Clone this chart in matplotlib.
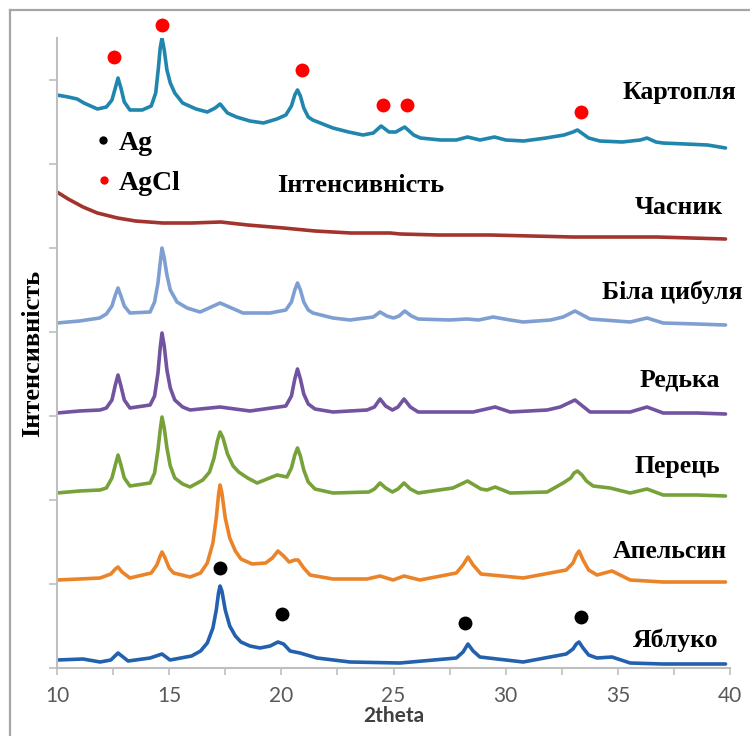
import matplotlib
matplotlib.use("Agg")
import matplotlib.pyplot as plt
from matplotlib.lines import Line2D

# ---------------- data (2theta, intensity in arbitrary units) ----------------
kartoplia_x = [10.0, 10.5, 10.9, 11.2, 11.8, 12.2, 12.45, 12.6, 12.72, 12.85, 13.0, 13.25, 13.8, 14.2,
               14.4, 14.52, 14.6, 14.68, 14.78, 14.9, 15.05, 15.25, 15.6, 16.2, 16.7, 17.05, 17.27,
               17.6, 18.0, 18.6, 19.2, 19.8, 20.2, 20.45, 20.6, 20.72, 20.85, 21.0, 21.2, 21.4, 22.3,
               23.0, 23.64, 24.1, 24.45, 24.8, 25.1, 25.5, 25.9, 26.2, 27.1, 27.8, 28.3, 28.86, 29.5,
               30.0, 30.8, 31.8, 32.6, 33.0, 33.2, 33.45, 33.7, 34.2, 35.2, 36.0, 36.3, 36.7, 37.0,
               38.0, 39.0, 39.8]
kartoplia_y = [573, 571, 569, 565, 559, 561, 568, 580, 590, 580, 566, 558, 558, 562,
               575, 600, 620, 630, 618, 598, 585, 575, 565, 559, 556, 560, 564,
               555, 551, 547, 545, 549, 553, 562, 573, 578, 572, 560, 551, 548, 540,
               536, 533, 535, 542, 536, 536, 541, 533, 530, 528, 528, 531, 528, 531,
               528, 527, 530, 533, 536, 538, 534, 530, 527, 526, 528, 530, 526, 525,
               524, 523, 520]

chasnyk_x = [10.0, 10.5, 11.16, 11.8, 12.7, 13.5, 14.7, 16.0, 17.3, 18.5, 20.1, 21.5, 23.1, 24.85,
             25.3, 27.0, 29.3, 33.0, 36.75, 39.8]
chasnyk_y = [476, 469, 461, 455, 450, 447, 445, 445, 446, 443, 440, 437, 435, 435,
             434, 433, 433, 431, 431, 429]

bila_x = [10.0, 11.0, 11.9, 12.2, 12.45, 12.6, 12.72, 12.85, 13.0, 13.25, 14.15, 14.35, 14.5, 14.6,
          14.68, 14.78, 14.9, 15.05, 15.35, 15.8, 16.38, 17.27, 18.29, 19.5, 20.2, 20.45, 20.6,
          20.72, 20.85, 21.0, 21.2, 21.41, 22.3, 23.06, 24.1, 24.4, 24.7, 25.0, 25.25, 25.5,
          25.8, 26.1, 27.5, 28.28, 28.8, 29.44, 30.2, 30.78, 32.0, 32.56, 33.09, 33.76, 35.55,
          36.3, 37.02, 38.5, 39.8]
bila_y = [345, 347, 350, 354, 362, 373, 380, 372, 362, 355, 356, 366, 385, 405,
          420, 410, 393, 378, 366, 360, 356, 365, 355, 355, 358, 366, 378,
          385, 378, 366, 358, 355, 350, 348, 351, 356, 352, 350, 352, 357,
          352, 349, 348, 349, 348, 351, 348, 346, 348, 351, 357, 349, 346,
          350, 345, 344, 343]

redka_x = [10.0, 11.0, 11.92, 12.2, 12.45, 12.6, 12.72, 12.85, 13.0, 13.25, 14.15, 14.35, 14.5, 14.6,
           14.68, 14.78, 14.9, 15.05, 15.25, 15.6, 15.93, 17.27, 18.6, 20.2, 20.45, 20.6, 20.72,
           20.85, 21.0, 21.2, 21.5, 22.3, 23.82, 24.15, 24.4, 24.65, 24.95, 25.2, 25.47, 25.75,
           26.1, 28.55, 29.53, 30.2, 31.85, 32.43, 33.09, 33.76, 35.55, 36.3, 37.02, 38.53, 39.8]
redka_y = [255, 257, 258, 260, 268, 283, 293, 282, 268, 260, 263, 272, 295, 320,
           335, 322, 298, 280, 268, 261, 258, 261, 257, 262, 272, 289, 299,
           289, 274, 264, 259, 256, 258, 261, 269, 262, 258, 261, 269, 261,
           256, 256, 261, 256, 258, 261, 268, 256, 256, 261, 255, 255, 254]

perets_x = [10.0, 11.0, 11.92, 12.2, 12.45, 12.6, 12.72, 12.85, 13.0, 13.25, 14.15, 14.35, 14.5, 14.6,
            14.68, 14.78, 14.9, 15.05, 15.25, 15.6, 15.93, 16.5, 16.8, 17.0, 17.15, 17.27, 17.4,
            17.6, 17.85, 18.1, 18.5, 18.92, 19.81, 20.25, 20.45, 20.6, 20.72, 20.85, 21.0, 21.2,
            21.5, 22.3, 23.9, 24.15, 24.4, 24.65, 24.95, 25.2, 25.47, 25.75, 26.1, 27.65, 28.3,
            28.9, 29.17, 29.53, 30.2, 31.85, 32.56, 32.9, 33.05, 33.2, 33.4, 33.6, 33.9, 34.65,
            35.55, 36.3, 37.02, 38.5, 39.8]
perets_y = [175, 177, 178, 180, 190, 203, 213, 203, 190, 182, 185, 195, 218, 238,
            251, 240, 220, 202, 190, 184, 181, 188, 196, 210, 227, 236, 230,
            214, 202, 196, 190, 185, 193, 191, 200, 213, 220, 212, 198, 186,
            179, 175, 176, 179, 185, 180, 176, 179, 185, 179, 175, 180, 187,
            179, 178, 181, 175, 176, 185, 190, 195, 197, 193, 187, 182, 180,
            175, 179, 173, 173, 172]

apelsyn_x = [10.0, 11.0, 11.92, 12.4, 12.6, 12.72, 12.9, 13.25, 14.2, 14.45, 14.6, 14.68, 14.8, 15.0,
             15.2, 15.93, 16.4, 16.7, 16.95, 17.1, 17.2, 17.27, 17.35, 17.5, 17.7, 17.95, 18.2,
             18.7, 19.3, 19.6, 19.85, 20.1, 20.35, 20.6, 20.75, 21.0, 21.28, 22.3, 23.82, 24.4,
             24.98, 25.47, 26.18, 27.8, 28.1, 28.32, 28.55, 28.9, 30.78, 32.7, 33.0, 33.15, 33.27,
             33.45, 33.7, 34.07, 34.74, 35.55, 37.02, 38.5, 39.8]
apelsyn_y = [88, 89, 90, 94, 99, 101, 96, 90, 95, 103, 112, 116, 111, 100,
             95, 91, 95, 105, 125, 150, 173, 183, 175, 150, 130, 117, 109,
             104, 105, 110, 117, 112, 106, 108, 108, 100, 93, 89, 89, 92,
             88, 92, 88, 95, 103, 111, 103, 94, 90, 98, 105, 113, 117,
             108, 98, 93, 97, 88, 86, 86, 86]

yabluko_x = [10.0, 11.16, 11.92, 12.4, 12.72, 13.17, 14.15, 14.68, 15.04, 16.0, 16.4, 16.7, 16.95,
             17.1, 17.2, 17.27, 17.35, 17.5, 17.7, 17.95, 18.2, 18.6, 19.05, 19.5, 19.85, 20.1,
             20.39, 20.83, 21.59, 23.06, 25.29, 27.8, 28.1, 28.32, 28.55, 28.85, 30.78, 32.7, 33.0,
             33.15, 33.27, 33.45, 33.7, 34.07, 34.74, 35.55, 37.0, 39.8]
yabluko_y = [8, 9, 6, 8, 15, 7, 10, 14, 8, 12, 17, 25, 40,
             58, 75, 82, 77, 58, 42, 32, 26, 22, 20, 22, 26, 24,
             17, 15, 10, 6, 5, 10, 16, 24, 17, 11, 6, 14, 19,
             24, 26, 20, 13, 10, 11, 5, 4, 4]

series_names = ["Картопля", "Часник", "Біла цибуля", "Редька", "Перець", "Апельсин", "Яблуко"]
series_x = [kartoplia_x, chasnyk_x, bila_x, redka_x, perets_x, apelsyn_x, yabluko_x]
series_y = [kartoplia_y, chasnyk_y, bila_y, redka_y, perets_y, apelsyn_y, yabluko_y]
series_colors = ["#2086AE", "#A3332D", "#7F9FD3", "#7253A0", "#77A23A", "#EB8428", "#2361AE"]

# label anchor (right edge x in 2theta, y in intensity units)
label_x = [40.27, 39.69, 40.54, 39.56, 39.56, 39.87, 39.47]
label_y = [575, 460, 376, 288, 201, 116, 28]

# phase markers
agcl_x = [12.54, 14.68, 20.92, 24.53, 25.6, 33.36]
agcl_y = [611, 643, 598, 563, 563, 556]
ag_x = [17.27, 20.03, 28.19, 33.36]
ag_y = [100, 54, 45, 51]

x_ticks = [10, 15, 20, 25, 30, 35, 40]

# ---------------- figure ----------------
W, H = 750, 736
fig = plt.figure(figsize=(W / 100, H / 100), dpi=100)
ax = fig.add_axes([57 / W, (H - 668) / H, (730 - 57) / W, (668 - 38) / H])

for xs, ys, c in zip(series_x, series_y, series_colors):
    ax.plot(xs, ys, color=c, lw=2.6, solid_joinstyle="round", solid_capstyle="round")

ax.plot(agcl_x, agcl_y, "o", color="#FF0000", ms=10, mec="none", clip_on=False)
ax.plot(ag_x, ag_y, "o", color="black", ms=10, mec="none", clip_on=False)

serif = ["Liberation Serif", "DejaVu Serif"]
for name, lx, ly in zip(series_names, label_x, label_y):
    ax.text(lx, ly, name, ha="right", va="center", family=serif, fontweight="bold",
            fontsize=18.5, color="black", clip_on=False)

# inner legend
ax.plot([12.05], [528], "o", color="black", ms=6, mec="none")
ax.plot([12.1], [488], "o", color="#FF0000", ms=6, mec="none")
ax.text(12.75, 524, "Ag", ha="left", va="center", family=serif, fontweight="bold",
        fontsize=20, color="black")
ax.text(12.75, 485, "AgCl", ha="left", va="center", family=serif, fontweight="bold",
        fontsize=20, color="black")
ax.text(23.55, 483, "Інтенсивність", ha="center", va="center", family=serif,
        fontweight="bold", fontsize=19, color="black")

ax.set_xlim(10, 40)
ax.set_ylim(0, 630)
ax.set_xticks(x_ticks)
ax.set_xticks([12.5 + 5 * i for i in range(6)], minor=True)
ax.set_yticks([84 * i for i in range(8)])
ax.set_yticklabels([])
ax.tick_params(axis="x", which="both", direction="out", length=5, width=1.2, color="#BFBFBF",
               labelsize=15, labelcolor="#595959", pad=8)
ax.tick_params(axis="y", direction="out", length=6, width=1.2, color="#BFBFBF")
for lab in ax.get_xticklabels():
    lab.set_family(["Lato", "DejaVu Sans"])

for s in ["top", "right"]:
    ax.spines[s].set_visible(False)
for s in ["left", "bottom"]:
    ax.spines[s].set_color("#BFBFBF")
    ax.spines[s].set_linewidth(1.5)

ax.set_xlabel("2theta", family=["Lato", "DejaVu Sans"], fontweight="bold", fontsize=15,
              color="#404040", labelpad=0)
ax.set_ylabel("Інтенсивність", family=serif, fontweight="bold", fontsize=19, color="black",
              va="center")
ax.yaxis.set_label_coords(-0.036, 0.5)

# outer frame (left and top edges visible)
fig.add_artist(Line2D([10 / W, 10 / W], [0, 1 - 10 / H], color="#A6A6A6", lw=1.6))
fig.add_artist(Line2D([10 / W, 1], [1 - 10 / H, 1 - 10 / H], color="#A6A6A6", lw=1.6))

fig.savefig("out.png", dpi=100, facecolor="white")
